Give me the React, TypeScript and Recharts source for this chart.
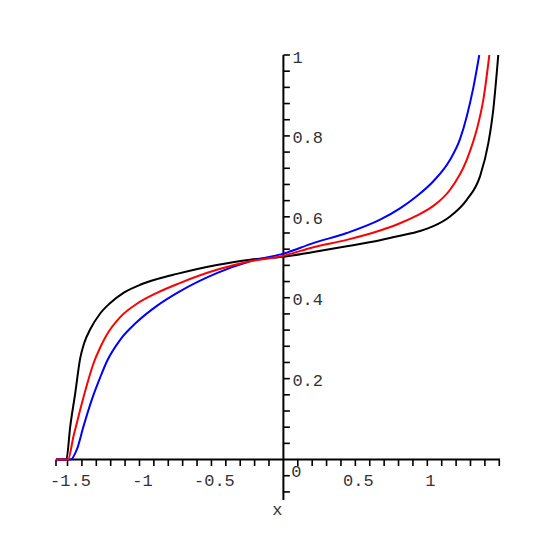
import { LineChart, Line, XAxis, YAxis, ReferenceLine, ReferenceDot } from 'recharts';

// values
const blackX = [-1.58, -1.508, -1.481, -1.446, -1.412, -1.385, -1.342, -1.273, -1.203, -1.111, -0.995, -0.879, -0.74, -0.4625, -0.231, 0, 0.208, 0.44, 0.672, 0.81, 0.949, 1.042, 1.158, 1.274, 1.366, 1.424, 1.458, 1.493];
const blackY = [0, 0, 0.082, 0.165, 0.25, 0.287, 0.322, 0.361, 0.387, 0.412, 0.432, 0.446, 0.459, 0.481, 0.494, 0.501, 0.513, 0.527, 0.542, 0.553, 0.565, 0.577, 0.601, 0.642, 0.7, 0.782, 0.864, 1.0];

const redX = [-1.58, -1.497, -1.458, -1.412, -1.365, -1.319, -1.273, -1.226, -1.134, -1.018, -0.879, -0.729, -0.4625, -0.231, 0, 0.208, 0.44, 0.672, 0.81, 0.926, 1.042, 1.158, 1.274, 1.343, 1.389, 1.431];
const redY = [0, 0, 0.058, 0.123, 0.185, 0.238, 0.277, 0.309, 0.352, 0.385, 0.412, 0.435, 0.469, 0.49, 0.504, 0.525, 0.543, 0.566, 0.584, 0.603, 0.627, 0.667, 0.741, 0.815, 0.889, 1.0];

const blueX = [-1.58, -1.479, -1.435, -1.389, -1.331, -1.273, -1.226, -1.134, -1.018, -0.879, -0.729, -0.4625, -0.231, 0, 0.208, 0.44, 0.672, 0.81, 0.926, 1.042, 1.158, 1.227, 1.274, 1.319, 1.361];
const blueY = [0, 0, 0.025, 0.082, 0.148, 0.203, 0.243, 0.296, 0.34, 0.38, 0.414, 0.461, 0.49, 0.509, 0.535, 0.56, 0.593, 0.621, 0.651, 0.688, 0.741, 0.792, 0.848, 0.918, 1.0];

const xLabelValues = [-1.5, -1, -0.5, 0.5, 1];
const xLabelTexts = ['-1.5', '-1', '-0.5', '0.5', '1'];
const yLabelValues = [0.2, 0.4, 0.6, 0.8, 1];
const yLabelTexts = ['0.2', '0.4', '0.6', '0.8', '1'];

const X_MIN = -1.58;
const X_MAX = 1.505;
const Y_MIN = -0.1;
const Y_MAX = 1;

const toPoints = (xs: number[], ys: number[]) => xs.map((x, i) => ({ x, y: ys[i] }));

const xMinor: number[] = [X_MIN];
for (let i = -15; i <= 15; i++) if (i !== 0) xMinor.push(i / 10);
const yMinor: number[] = [];
for (let i = -2; i <= 25; i++) if (i !== 0) yMinor.push(i * 0.04);

const font = "'Liberation Mono', 'Courier New', monospace";
const textColor = '#333';

export default function App() {
  return (
    <div style={{ position: 'absolute', left: 0, top: 0, width: 556, height: 556, background: '#fff' }}>
      <LineChart width={556} height={556} margin={{ top: 55, right: 56, bottom: 56, left: 56 }}>
        <XAxis type="number" dataKey="x" domain={[X_MIN, X_MAX]} allowDataOverflow hide />
        <YAxis type="number" dataKey="y" domain={[Y_MIN, Y_MAX]} allowDataOverflow hide />

        <ReferenceLine y={0} stroke="#000" strokeWidth={2} />
        <ReferenceLine x={0} stroke="#000" strokeWidth={2} />
        {xMinor.map(t => (
          <ReferenceLine key={'xt' + t} segment={[{ x: t, y: 0 }, { x: t, y: -0.016 }]} stroke="#000" strokeWidth={1.6} />
        ))}
        {yMinor.map(t => (
          <ReferenceLine key={'yt' + t} segment={[{ x: 0, y: t }, { x: 0.045, y: t }]} stroke="#000" strokeWidth={1.6} />
        ))}

        {xLabelValues.map((v, i) => (
          <ReferenceDot key={'xl' + v} x={v} y={0} r={0}
            shape={(p: any) => (
              <text x={p.cx + 3} y={p.cy + 22} textAnchor="middle" dominantBaseline="central"
                fontFamily={font} fontSize={17} fill={textColor}>{xLabelTexts[i]}</text>
            )} />
        ))}
        {yLabelValues.map((v, i) => (
          <ReferenceDot key={'yl' + v} x={0} y={v} r={0}
            shape={(p: any) => (
              <text x={p.cx + 9} y={p.cy + 3} textAnchor="start" dominantBaseline="central"
                fontFamily={font} fontSize={17} fill={textColor}>{yLabelTexts[i]}</text>
            )} />
        ))}
        <ReferenceDot x={0} y={0} r={0}
          shape={(p: any) => (
            <text x={p.cx + 13} y={p.cy + 13} textAnchor="middle" dominantBaseline="central"
              fontFamily={font} fontSize={17} fill={textColor}>0</text>
          )} />
        <ReferenceDot x={0} y={Y_MIN} r={0}
          shape={(p: any) => (
            <text x={p.cx - 6} y={p.cy + 10} textAnchor="middle" dominantBaseline="central"
              fontFamily={font} fontSize={17} fill={textColor}>x</text>
          )} />

        <Line data={toPoints(blackX, blackY)} dataKey="y" type="monotone" stroke="#000000" strokeWidth={2} dot={false} isAnimationActive={false} />
        <Line data={toPoints(blueX, blueY)} dataKey="y" type="monotone" stroke="#0000ff" strokeWidth={2} dot={false} isAnimationActive={false} />
        <Line data={toPoints(redX, redY)} dataKey="y" type="monotone" stroke="#ff0000" strokeWidth={2} dot={false} isAnimationActive={false} />
      </LineChart>
    </div>
  );
}
